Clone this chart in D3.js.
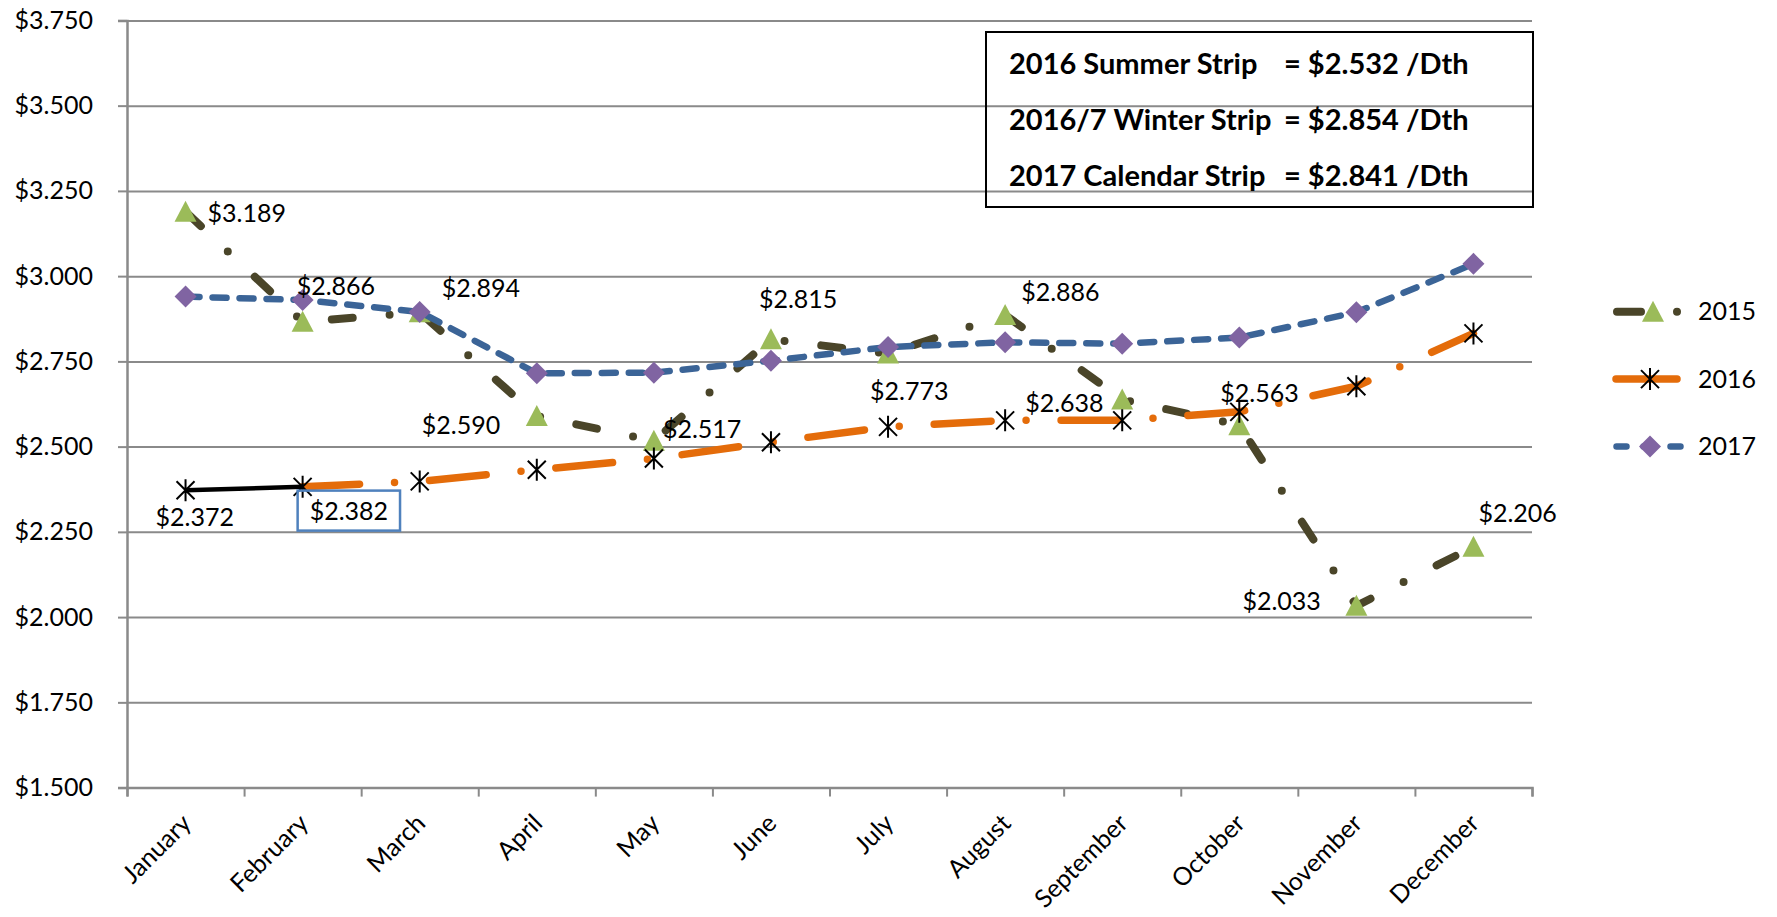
<!DOCTYPE html>
<html>
<head>
<meta charset="utf-8">
<script src="https://cdn.jsdelivr.net/npm/d3@7"></script>
<style>
  body { margin: 0; background: #fff; }
  svg { display: block; font-family: Lato, "Open Sans", sans-serif; }
</style>
</head>
<body>
<svg id="chart" width="1777" height="917"></svg>
<script>
// ---- data ----
const months = ["January", "February", "March", "April", "May", "June",
  "July", "August", "September", "October", "November", "December"];
const yTicks = [1.5, 1.75, 2.0, 2.25, 2.5, 2.75, 3.0, 3.25, 3.5, 3.75];

const s2015 = [3.189, 2.866, 2.894, 2.590, 2.517, 2.815, 2.773, 2.886, 2.638, 2.563, 2.033, 2.206];
const s2016 = [2.372, 2.382, 2.398, 2.432, 2.465, 2.513, 2.558, 2.577, 2.577, 2.602, 2.677, 2.832];
const s2017 = [2.940, 2.930, 2.895, 2.715, 2.717, 2.752, 2.792, 2.806, 2.802, 2.820, 2.894, 3.036];

const seriesNames = ["2015", "2016", "2017"];
const stripNames = ["2016 Summer Strip", "2016/7 Winter Strip", "2017 Calendar Strip"];
const stripValues = [2.532, 2.854, 2.841];

// label placement (offset from the point to the text's left edge / middle)
const offsets2015 = [[22, 2], [-6, -36], [22, -24], [-115, 9], [9, -12], [-12, -40],
  [-18, 38], [16, -23], [-97, 4], [-19, -32], [-114, -5], [5, -34]];
const offsets2016 = [[-30, 27], [7, 24]];

// ---- layout ----
const svg = d3.select("#chart");
const plotLeft = 127, plotRight = 1532, plotTop = 20.4, plotBottom = 787.6;
const fmt = d3.format(".3f");
const money = (v) => "$" + fmt(v);

const x = d3.scaleBand().domain(months).range([plotLeft, plotRight]);
const xi = d3.scaleLinear().domain([0, 12]).range([plotLeft, plotRight]);
const y = d3.scaleLinear().domain([1.5, 3.75]).range([plotBottom, plotTop]);
const cx = (i) => x(months[i]) + x.bandwidth() / 2;

const colors = { olive: "#4a4529", green: "#9bbb59", orange: "#e46c0a", blue: "#3b6497", purple: "#8064a2" };

// gridlines
svg.append("g")
  .attr("transform", `translate(${plotLeft},0)`)
  .call(d3.axisLeft(y).tickValues(yTicks).tickSize(-(plotRight - plotLeft)).tickFormat(""))
  .call((g) => g.select(".domain").remove())
  .call((g) => g.selectAll("line").attr("stroke", "#8a8a8a").attr("stroke-width", 2));

// y axis
svg.append("g")
  .attr("transform", `translate(${plotLeft},0)`)
  .call(d3.axisLeft(y).tickValues(yTicks).tickSize(9).tickPadding(25).tickFormat(money))
  .call((g) => g.select(".domain").attr("stroke", "#8a8a8a").attr("stroke-width", 2.5))
  .call((g) => g.selectAll("line").attr("stroke", "#8a8a8a").attr("stroke-width", 2))
  .call((g) => g.selectAll("text").attr("font-size", 25).attr("font-family", "Lato").attr("fill", "#000"));

// x axis ticks between categories
svg.append("g")
  .attr("transform", `translate(0,${plotBottom})`)
  .call(d3.axisBottom(xi).tickValues(d3.range(13)).tickSize(9).tickFormat(""))
  .call((g) => g.select(".domain").attr("stroke", "#8a8a8a").attr("stroke-width", 2.5))
  .call((g) => g.selectAll("line").attr("stroke", "#8a8a8a").attr("stroke-width", 2));

// x axis labels
svg.append("g")
  .attr("transform", `translate(0,${plotBottom})`)
  .call(d3.axisBottom(x).tickSize(0))
  .call((g) => g.select(".domain").remove())
  .call((g) => g.selectAll("text")
    .attr("font-size", 25).attr("font-family", "Lato").attr("fill", "#000")
    .attr("text-anchor", "end")
    .attr("y", 0).attr("dy", "0.35em")
    .attr("transform", "translate(1,31) rotate(-45)"));

// ---- series ----
const line = d3.line().x((d, i) => cx(i)).y((d) => y(d));

const tri = "M0,-11L11,10L-11,10Z";
const diamond = "M0,-11L11,0L0,11L-11,0Z";
const star = "M-9,-9L9,9M-9,9L9,-9M0,-11L0,11";

// 2015
svg.append("path")
  .attr("d", line(s2015))
  .attr("fill", "none").attr("stroke", colors.olive).attr("stroke-width", 8)
  .attr("stroke-linecap", "round").attr("stroke-linejoin", "round")
  .attr("stroke-dasharray", "21 37 0 37");
svg.append("g").selectAll("path").data(s2015).join("path")
  .attr("d", tri).attr("fill", colors.green)
  .attr("transform", (d, i) => `translate(${cx(i)},${y(d)})`);

// 2016 (forecast from February on)
svg.append("path")
  .attr("d", line.defined((d, i) => i >= 1)(s2016))
  .attr("fill", "none").attr("stroke", colors.orange).attr("stroke-width", 7.5)
  .attr("stroke-linecap", "round").attr("stroke-linejoin", "round")
  .attr("stroke-dasharray", "57 35 0 35");
// settled months
svg.append("path")
  .attr("d", line.defined((d, i) => i <= 1)(s2016))
  .attr("fill", "none").attr("stroke", "#000").attr("stroke-width", 4.5);
line.defined(() => true);
svg.append("g").selectAll("path").data(s2016).join("path")
  .attr("d", star).attr("fill", "none").attr("stroke", "#000").attr("stroke-width", 2)
  .attr("transform", (d, i) => `translate(${cx(i)},${y(d)})`);

// 2017
svg.append("path")
  .attr("d", line(s2017))
  .attr("fill", "none").attr("stroke", colors.blue).attr("stroke-width", 6.5)
  .attr("stroke-linecap", "round").attr("stroke-linejoin", "round")
  .attr("stroke-dasharray", "14 13");
svg.append("g").selectAll("path").data(s2017).join("path")
  .attr("d", diamond).attr("fill", colors.purple)
  .attr("transform", (d, i) => `translate(${cx(i)},${y(d)})`);

// ---- data labels ----
const labels = svg.append("g").attr("font-size", 25).attr("fill", "#000");
labels.selectAll("text.l15").data(s2015).join("text")
  .attr("class", "l15")
  .attr("x", (d, i) => cx(i) + offsets2015[i][0])
  .attr("y", (d, i) => y(d) + offsets2015[i][1])
  .attr("dy", "0.35em")
  .text(money);
const l16 = labels.selectAll("text.l16").data(s2016.slice(0, 2)).join("text")
  .attr("class", "l16")
  .attr("x", (d, i) => cx(i) + offsets2016[i][0])
  .attr("y", (d, i) => y(d) + offsets2016[i][1])
  .attr("dy", "0.35em")
  .text(money);

// highlight box round the February label
const fb = l16.nodes()[1].getBBox();
svg.append("rect")
  .attr("x", fb.x - 12).attr("y", fb.y - 4)
  .attr("width", fb.width + 24).attr("height", fb.height + 10)
  .attr("fill", "none").attr("stroke", "#4f81bd").attr("stroke-width", 2.5);

// ---- strip box ----
const box = svg.append("g");
box.append("rect")
  .attr("x", 986).attr("y", 32).attr("width", 547).attr("height", 175)
  .attr("fill", "none").attr("stroke", "#000").attr("stroke-width", 2);
const rowY = d3.scalePoint().domain(stripNames).range([63.5, 175.7]);
box.selectAll("text.n").data(stripNames).join("text")
  .attr("class", "n")
  .attr("x", 1009).attr("y", (d) => rowY(d)).attr("dy", "0.35em")
  .attr("font-size", 29).attr("font-weight", 700)
  .text((d) => d);
box.selectAll("text.v").data(stripValues).join("text")
  .attr("class", "v")
  .attr("x", 1284).attr("y", (d, i) => rowY(stripNames[i])).attr("dy", "0.35em")
  .attr("font-size", 29).attr("font-weight", 700)
  .text((d) => "= " + money(d) + " /Dth");

// ---- legend ----
const legY = d3.scalePoint().domain(seriesNames).range([311.7, 446.5]);
const leg = svg.append("g");
const g15 = leg.append("g").attr("transform", `translate(0,${legY("2015")})`);
g15.append("path").attr("d", "M1617,0H1680")
  .attr("stroke", colors.olive).attr("stroke-width", 8).attr("stroke-linecap", "round")
  .attr("stroke-dasharray", "24 36 0 100");
g15.append("path").attr("d", tri).attr("fill", colors.green).attr("transform", "translate(1653,0)");

const g16 = leg.append("g").attr("transform", `translate(0,${legY("2016")})`);
g16.append("path").attr("d", "M1616,0H1677")
  .attr("stroke", colors.orange).attr("stroke-width", 7.5).attr("stroke-linecap", "round");
g16.append("path").attr("d", star).attr("fill", "none").attr("stroke", "#000").attr("stroke-width", 2)
  .attr("transform", "translate(1650,0)");

const g17 = leg.append("g").attr("transform", `translate(0,${legY("2017")})`);
g17.append("path").attr("d", "M1616.5,0H1681")
  .attr("stroke", colors.blue).attr("stroke-width", 6.5).attr("stroke-linecap", "round")
  .attr("stroke-dasharray", "10 17");
g17.append("path").attr("d", diamond).attr("fill", colors.purple).attr("transform", "translate(1650,0)");

leg.selectAll("text").data(seriesNames).join("text")
  .attr("x", 1698).attr("y", (d) => legY(d)).attr("dy", "0.35em")
  .attr("font-size", 25)
  .text((d) => d);
</script>
</body>
</html>
